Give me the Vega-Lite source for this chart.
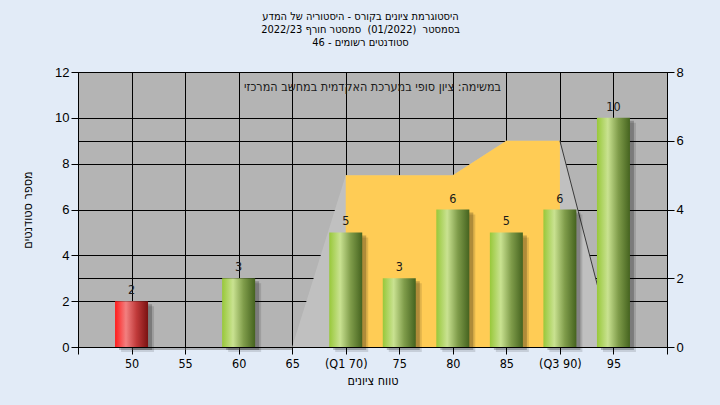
{
  "$schema": "https://vega.github.io/schema/vega-lite/v6.json",
  "width": 589,
  "height": 275,
  "autosize": {"type": "none"},
  "padding": {"left": 78, "top": 72, "right": 53, "bottom": 58},
  "background": "#e2ebf7",
  "title": {
    "text": ["היסטוגרמת ציונים בקורס - היסטוריה של המדע", "בסמסטר \u00a0(01/2022) \u00a0סמסטר חורף 2022/23", "סטודנטים רשומים - 46"],
    "font": "Liberation Sans Narrow, DejaVu Sans Condensed, sans-serif",
    "fontSize": 11,
    "fontWeight": "normal",
    "color": "#000000",
    "lineHeight": 13,
    "anchor": "middle",
    "dx": -12,
    "offset": 18
  },
  "config": {
    "view": {"fill": "#b4b4b4", "stroke": null},
    "axis": {
      "domainColor": "#000000",
      "domainWidth": 1,
      "tickColor": "#000000",
      "tickSize": 7,
      "gridColor": "#000000",
      "gridWidth": 1,
      "gridOpacity": 1,
      "labelColor": "#000000",
      "titleColor": "#000000",
      "titleFontWeight": "normal"
    }
  },
  "datasets": {
    "bins": [
      {"grade": 50, "count": 2, "status": "fail"},
      {"grade": 55, "count": 0, "status": "pass"},
      {"grade": 60, "count": 3, "status": "pass"},
      {"grade": 65, "count": 0, "status": "pass"},
      {"grade": 70, "count": 5, "status": "pass"},
      {"grade": 75, "count": 3, "status": "pass"},
      {"grade": 80, "count": 6, "status": "pass"},
      {"grade": 85, "count": 5, "status": "pass"},
      {"grade": 90, "count": 6, "status": "pass"},
      {"grade": 95, "count": 10, "status": "pass"}
    ],
    "spread": [
      {"grade": 50, "level": 0},
      {"grade": 55, "level": 0},
      {"grade": 60, "level": 0},
      {"grade": 65, "level": 0},
      {"grade": 70, "level": 5},
      {"grade": 75, "level": 5},
      {"grade": 80, "level": 5},
      {"grade": 85, "level": 6},
      {"grade": 90, "level": 6},
      {"grade": 95, "level": 0}
    ],
    "notes": [
      {"grade": 72.5, "count": 11.35, "note": "במשימה: ציון סופי במערכת האקדמית במחשב המרכזי"}
    ]
  },
  "encoding": {
    "x": {
      "field": "grade",
      "type": "quantitative",
      "scale": {"domain": [45, 100], "nice": false, "zero": false, "padding": 0},
      "axis": {
        "values": [45, 50, 55, 60, 65, 70, 75, 80, 85, 90, 95, 100],
        "labelExpr": "datum.value == 45 || datum.value == 100 ? '' : datum.value == 70 ? '(Q1 70)' : datum.value == 90 ? '(Q3 90)' : datum.label",
        "grid": true,
        "labelFont": "Liberation Sans Narrow, DejaVu Sans Condensed, sans-serif",
        "labelFontSize": 12.5,
        "labelPadding": 3,
        "title": "טווח ציונים",
        "titleFont": "Liberation Sans Narrow, DejaVu Sans Condensed, sans-serif",
        "titleFontSize": 12.5,
        "titlePadding": 5
      }
    }
  },
  "layer": [
    {
      "data": {"name": "spread"},
      "encoding": {
        "y": {
          "field": "level",
          "type": "quantitative",
          "scale": {"domain": [0, 8], "nice": false},
          "axis": {
            "orient": "right",
            "values": [0, 2, 4, 6, 8],
            "grid": true,
            "title": null,
            "labelFont": "Liberation Sans, Arial, sans-serif",
            "labelFontSize": 13,
            "labelPadding": 2
          }
        }
      },
      "layer": [
        {
          "transform": [{"filter": "datum.grade >= 65"}],
          "mark": {"type": "area", "color": "#c0c0c0", "opacity": 1}
        },
        {
          "transform": [{"filter": "datum.grade >= 70 && datum.grade <= 90"}],
          "mark": {"type": "area", "color": "#ffcc55", "opacity": 1}
        },
        {
          "transform": [{"filter": "datum.grade >= 90"}],
          "mark": {"type": "line", "color": "#3a3a3a", "strokeWidth": 1}
        },
        {
          "transform": [{"filter": "datum.grade <= 65"}],
          "mark": {"type": "line", "color": "#7a7a7a", "strokeWidth": 1, "yOffset": 2}
        }
      ]
    },
    {
      "data": {"name": "bins"},
      "encoding": {
        "y": {
          "field": "count",
          "type": "quantitative",
          "scale": {"domain": [0, 12], "nice": false},
          "axis": {
            "orient": "left",
            "values": [0, 2, 4, 6, 8, 10, 12],
            "grid": true,
            "title": "מספר סטודנטים",
            "titleFont": "Liberation Sans Narrow, DejaVu Sans Condensed, sans-serif",
            "titleFontSize": 12.5,
            "titlePadding": 20,
            "labelFont": "Liberation Sans, Arial, sans-serif",
            "labelFontSize": 13,
            "labelPadding": 2
          }
        }
      },
      "layer": [
        {
          "transform": [{"filter": "datum.count > 0"}],
          "mark": {"type": "bar", "size": 33, "color": "#000000", "opacity": 0.12, "xOffset": 6, "yOffset": 5}
        },
        {
          "transform": [{"filter": "datum.count > 0"}],
          "mark": {"type": "bar", "size": 33, "color": "#000000", "opacity": 0.22, "xOffset": 4, "yOffset": 3}
        },
        {
          "transform": [{"filter": "datum.count > 0 && datum.status == 'pass'"}],
          "mark": {
            "type": "bar",
            "size": 33,
            "color": {
              "gradient": "linear",
              "x1": 0, "x2": 1, "y1": 0, "y2": 0,
              "stops": [
                {"offset": 0, "color": "#98c83a"},
                {"offset": 0.33, "color": "#c9e291"},
                {"offset": 0.65, "color": "#7f9c4a"},
                {"offset": 1, "color": "#45631f"}
              ]
            }
          }
        },
        {
          "transform": [{"filter": "datum.count > 0 && datum.status == 'fail'"}],
          "mark": {
            "type": "bar",
            "size": 33,
            "color": {
              "gradient": "linear",
              "x1": 0, "x2": 1, "y1": 0, "y2": 0,
              "stops": [
                {"offset": 0, "color": "#ff1c1c"},
                {"offset": 0.33, "color": "#f28080"},
                {"offset": 0.65, "color": "#c03a3a"},
                {"offset": 1, "color": "#7a1212"}
              ]
            }
          }
        },
        {
          "transform": [{"filter": "datum.count > 0"}],
          "mark": {
            "type": "text",
            "dy": -11,
            "font": "Liberation Sans Narrow, DejaVu Sans Condensed, sans-serif",
            "fontSize": 12.5,
            "color": "#1a1a1a"
          },
          "encoding": {"text": {"field": "count", "type": "quantitative"}}
        },
        {
          "data": {"name": "notes"},
          "mark": {
            "type": "text",
            "font": "Liberation Sans Narrow, DejaVu Sans Condensed, sans-serif",
            "fontSize": 12.5,
            "color": "#1a1a1a"
          },
          "encoding": {"text": {"field": "note", "type": "nominal"}}
        }
      ]
    }
  ],
  "resolve": {"scale": {"y": "independent"}}
}
